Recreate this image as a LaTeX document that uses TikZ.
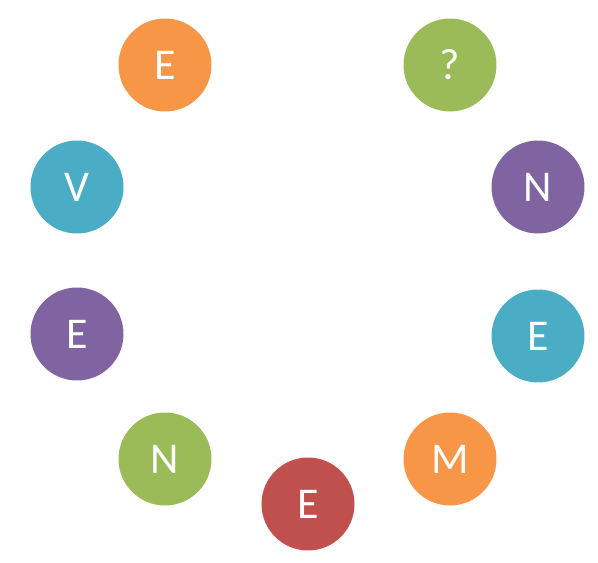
\documentclass[tikz,border=0pt]{standalone}
\usepackage{fontspec}
\setmainfont{Carlito}
\usepackage{xcolor}
\usepackage{tikz}
\usetikzlibrary{positioning}

\definecolor{ballorange}{HTML}{F79646}
\definecolor{ballgreen}{HTML}{9BBB59}
\definecolor{ballblue}{HTML}{4BACC6}
\definecolor{ballpurple}{HTML}{8064A2}
\definecolor{ballred}{HTML}{C0504D}

\tikzset{letter/.style={circle, minimum size=1.86cm, inner sep=0pt, text=white,
   font=\fontsize{25}{30}\selectfont}}

\begin{document}
\begin{tikzpicture}[x=0.02cm, y=-0.02cm]
\useasboundingbox (0,0) rectangle (598,563);

% Top pair
\node[letter, fill=ballorange] (e1) at (165,65) {E};
\node[letter, fill=ballgreen] (q) at (450,65) {?};

% Left side
\node[letter, fill=ballblue] (v) at (77,187) {V};
\node[letter, fill=ballpurple] (e2) at (77,334) {E};

% Right side
\node[letter, fill=ballpurple] (n1) at (538,187) {N};
\node[letter, fill=ballblue] (e3) at (538,336) {E};

% Bottom arc
\node[letter, fill=ballgreen] (n2) at (165,459) {N};
\node[letter, fill=ballred] (e4) at (308,504) {E};
\node[letter, fill=ballorange] (m) at (450,459) {M};
\end{tikzpicture}
\end{document}
